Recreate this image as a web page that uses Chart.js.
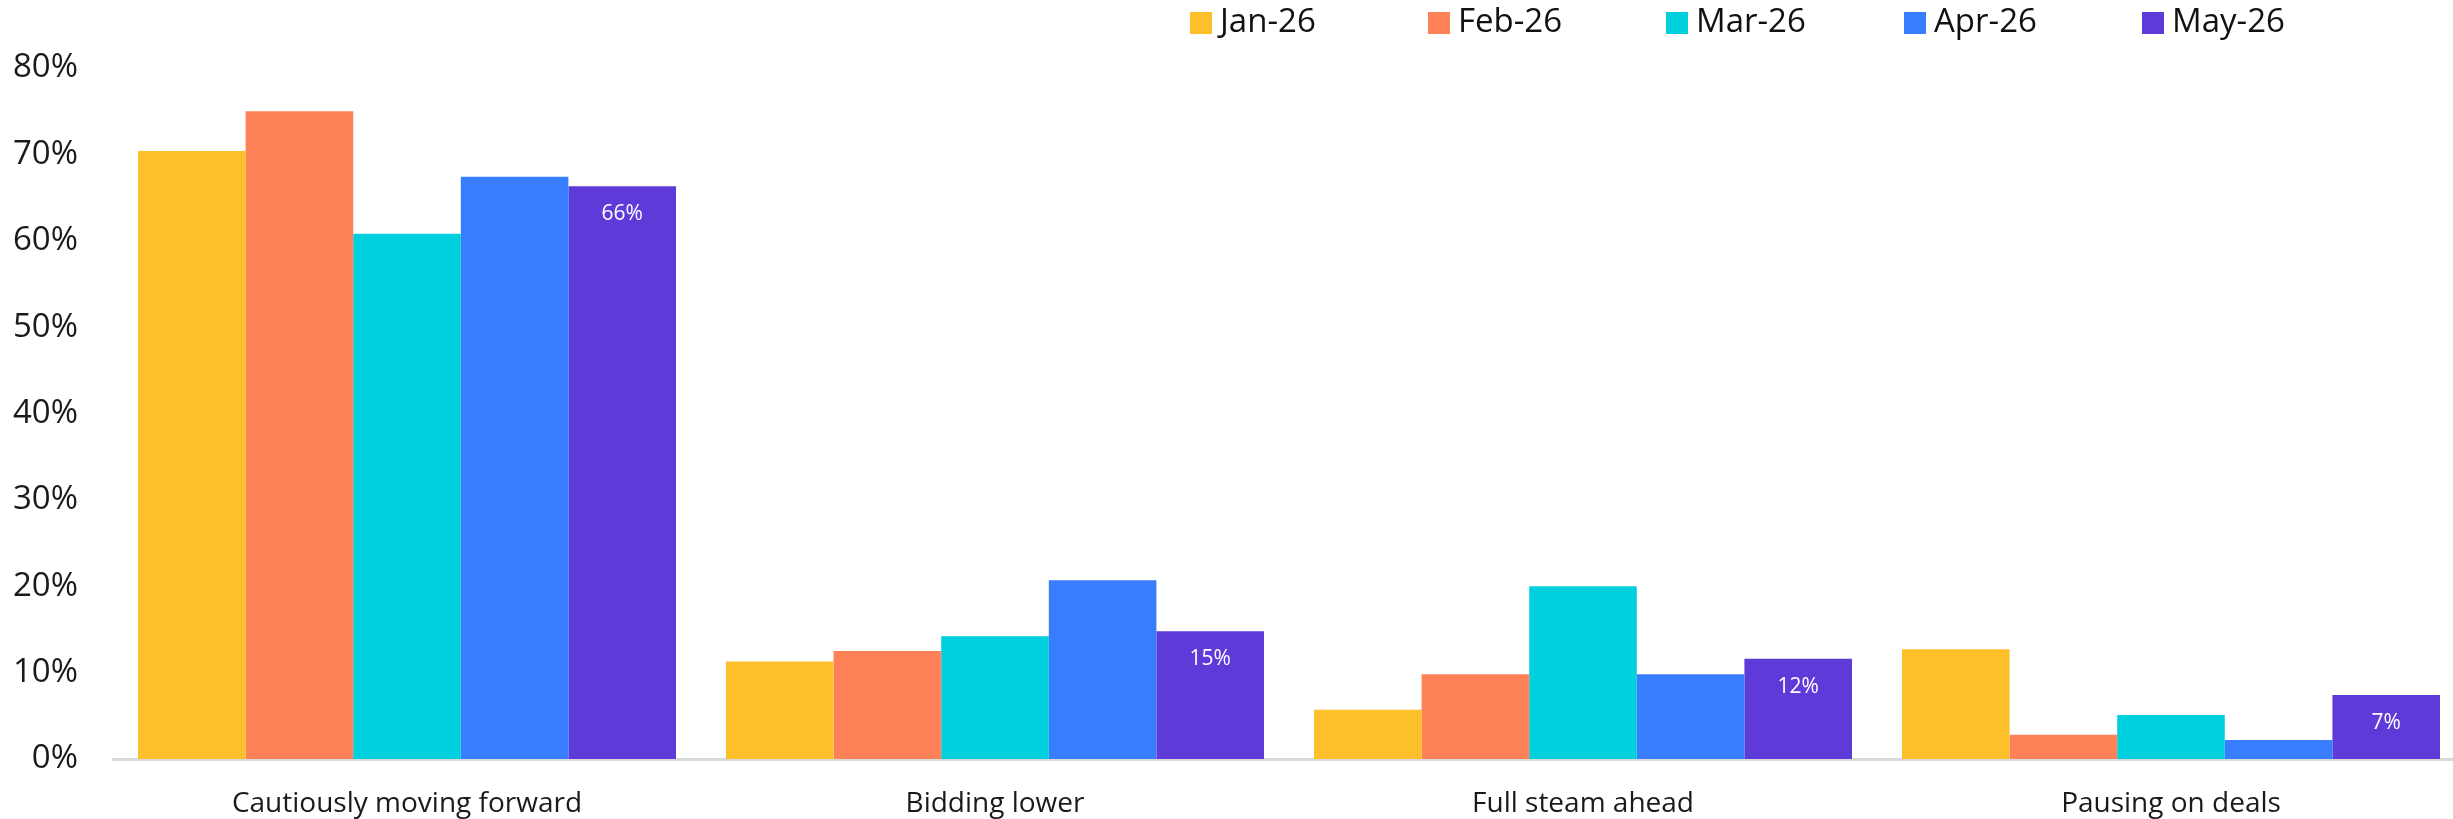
<!DOCTYPE html>
<html>
<head>
<meta charset="utf-8">
<script src="https://cdn.jsdelivr.net/npm/chart.js@4.4.1/dist/chart.umd.min.js"></script>
<style>
    html, body { margin: 0; padding: 0; background: #ffffff; }
    #wrap { width: 2453px; height: 819px; position: relative; }
</style>
</head>
<body>
<div id="wrap"><canvas id="sentimentChart"></canvas></div>
<script>

let categories = ["Cautiously moving forward", "Bidding lower", "Full steam ahead", "Pausing on deals"];
let months = ["Jan-26", "Feb-26", "Mar-26", "Apr-26", "May-26"];

let jan26 = [70.4, 11.3, 5.7, 12.7];
let feb26 = [75.0, 12.5, 9.8, 2.8];
let mar26 = [60.8, 14.2, 20.0, 5.1];
let apr26 = [67.4, 20.7, 9.8, 2.2];
let may26 = [66.3, 14.8, 11.6, 7.4];

let yTicks = [0, 10, 20, 30, 40, 50, 60, 70, 80];

let colors = ["#FDBF2A", "#FF8157", "#00CFDE", "#397DFF", "#5E3BD9"];
let seriesValues = [jan26, feb26, mar26, apr26, may26];

let fontName = '"Open Sans", "Noto Sans", sans-serif';

// white value labels, only on the last series (as in the reference)
let valueLabels = {
    id: "valueLabels",
    afterDatasetsDraw(chart) {
        let ctx = chart.ctx;
        let idx = chart.data.datasets.length - 1;
        let meta = chart.getDatasetMeta(idx);
        ctx.save();
        ctx.fillStyle = "#ffffff";
        ctx.font = "21px " + fontName;
        ctx.textAlign = "center";
        ctx.textBaseline = "middle";
        meta.data.forEach((bar, i) => {
            let v = chart.data.datasets[idx].data[i];
            ctx.fillText(Math.round(v) + "%", bar.x, bar.y + 28);
        });
        ctx.restore();
    }
};

// legend drawn top right like the source chart
let topLegend = {
    id: "topLegend",
    afterDraw(chart) {
        let ctx = chart.ctx;
        ctx.save();
        ctx.font = "33px " + fontName;
        ctx.textBaseline = "middle";
        let x = 1190;
        chart.data.datasets.forEach((ds, i) => {
            let bx = x + i * 238;
            ctx.fillStyle = ds.backgroundColor;
            ctx.fillRect(bx, 12, 22, 22);
            ctx.fillStyle = "#111111";
            ctx.fillText(ds.label, bx + 30, 23);
        });
        ctx.restore();
    }
};

// the source plot runs a little past the right edge of the picture
let widenX = {
    id: "widenX",
    afterLayout(chart) {
        let xs = chart.scales.x;
        xs.right += 12;
        xs.width += 12;
        xs.configure();
    }
};

let datasets = months.map((m, i) => ({
    label: m,
    data: seriesValues[i],
    backgroundColor: colors[i],
    borderWidth: 0,
    categoryPercentage: 0.915,
    barPercentage: 1.0
}));

new Chart(document.getElementById("sentimentChart"), {
    type: "bar",
    data: { labels: categories, datasets: datasets },
    options: {
        responsive: true,
        maintainAspectRatio: false,
        animation: false,
        layout: { padding: { top: 68, left: 0, right: 0, bottom: 0 } },
        plugins: {
            legend: { display: false },
            tooltip: { enabled: false }
        },
        scales: {
            x: {
                grid: { display: false, drawTicks: false },
                border: { display: true, color: "#D9D9D9", width: 3 },
                ticks: {
                    color: "#1a1a1a",
                    padding: 28,
                    font: { family: fontName, size: 28 }
                },
                afterFit(axis) {
                    axis.height = 60;
                }
            },
            y: {
                min: 0,
                max: 80,
                afterBuildTicks(axis) {
                    axis.ticks = yTicks.map(v => ({ value: v }));
                },
                grid: { display: false, drawTicks: false },
                border: { display: false },
                ticks: {
                    color: "#1a1a1a",
                    padding: 35,
                    font: { family: fontName, size: 33 },
                    callback: v => v + "%"
                },
                afterFit(axis) {
                    axis.width = 113;
                }
            }
        }
    },
    plugins: [valueLabels, topLegend, widenX]
});
</script>
</body>
</html>
